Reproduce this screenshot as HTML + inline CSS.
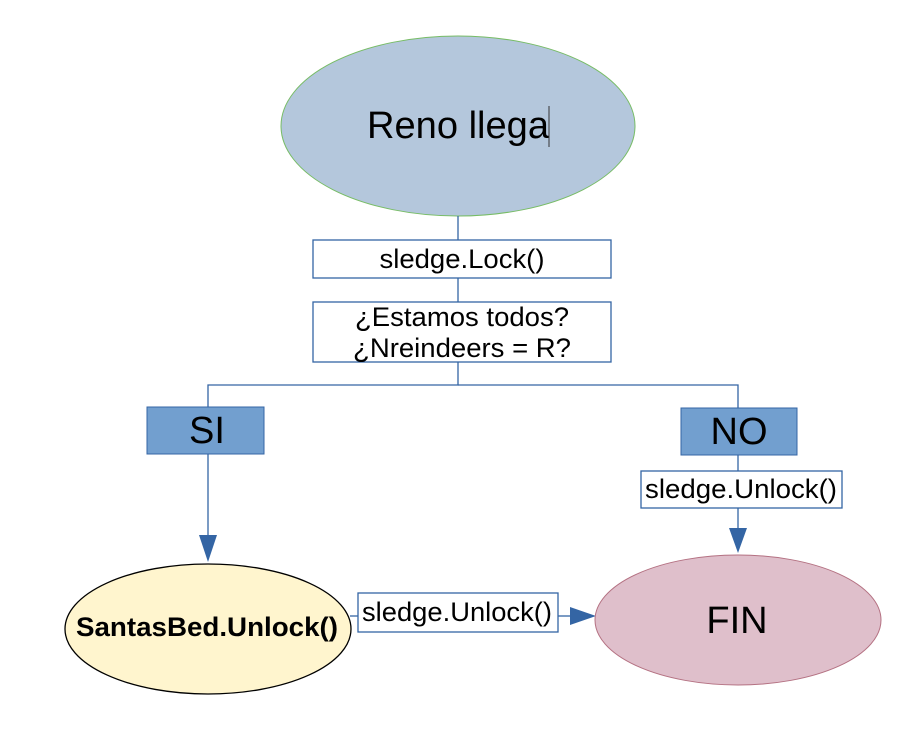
<!DOCTYPE html>
<html><head><style>body{margin:0;background:#fff}</style></head><body>
<svg width="906" height="736" xmlns="http://www.w3.org/2000/svg" font-family="Liberation Sans, sans-serif">
<rect width="906" height="736" fill="#fff"/>
<ellipse cx="458" cy="126" rx="177" ry="90" fill="#b4c7dc" stroke="#77bc65" stroke-width="1"/>
<text x="458" y="138" font-size="38" text-anchor="middle" textLength="182" lengthAdjust="spacingAndGlyphs">Reno llega</text>
<line x1="549" y1="106" x2="549" y2="147" stroke="#333" stroke-width="1"/>
<g stroke="#3465a4" stroke-width="1.3" fill="none">
<line x1="458" y1="216" x2="458" y2="240"/>
<line x1="458" y1="278" x2="458" y2="302"/>
<polyline points="458,362 458,385 208,385 208,407"/>
<polyline points="458,385 738,385 738,408"/>
<line x1="208" y1="454" x2="208" y2="540"/>
<line x1="738" y1="455" x2="738" y2="471"/>
<line x1="738" y1="508" x2="738" y2="530"/>
<line x1="350" y1="616" x2="358" y2="616"/>
<line x1="558" y1="616" x2="572" y2="616"/>
</g>
<g fill="#3465a4">
<polygon points="199,535 217,535 208,562"/>
<polygon points="729,528 747,528 738,553"/>
<polygon points="570,607 570,625 596,616"/>
</g>
<rect x="313" y="240" width="298" height="38" fill="#fff" stroke="#3465a4" stroke-width="1.3"/>
<text x="462" y="268" font-size="27" text-anchor="middle" textLength="165" lengthAdjust="spacingAndGlyphs">sledge.Lock()</text>
<rect x="313" y="302" width="298" height="60" fill="#fff" stroke="#3465a4" stroke-width="1.3"/>
<text x="462" y="326" font-size="27" text-anchor="middle" textLength="214" lengthAdjust="spacingAndGlyphs">¿Estamos todos?</text>
<text x="462" y="357" font-size="27" text-anchor="middle" textLength="218" lengthAdjust="spacingAndGlyphs">¿Nreindeers = R?</text>
<rect x="147" y="407" width="117" height="47" fill="#729fcf" stroke="#3465a4" stroke-width="1"/>
<text x="207" y="443" font-size="38" text-anchor="middle">SI</text>
<rect x="681" y="408" width="116" height="47" fill="#729fcf" stroke="#3465a4" stroke-width="1"/>
<text x="739" y="444" font-size="38" text-anchor="middle">NO</text>
<rect x="641" y="471" width="201" height="37" fill="#fff" stroke="#3465a4" stroke-width="1.3"/>
<text x="741" y="498" font-size="27" text-anchor="middle" textLength="192" lengthAdjust="spacingAndGlyphs">sledge.Unlock()</text>
<ellipse cx="208" cy="629" rx="143" ry="65" fill="#fff5ce" stroke="#000" stroke-width="1.3"/>
<text x="207" y="636" font-size="27" font-weight="bold" text-anchor="middle" textLength="262" lengthAdjust="spacingAndGlyphs">SantasBed.Unlock()</text>
<rect x="358" y="593" width="200" height="39" fill="#fff" stroke="#3465a4" stroke-width="1.3"/>
<text x="457" y="621" font-size="27" text-anchor="middle" textLength="190" lengthAdjust="spacingAndGlyphs">sledge.Unlock()</text>
<ellipse cx="738" cy="620" rx="143" ry="65" fill="#dfbfcb" stroke="#b47182" stroke-width="1"/>
<text x="737" y="633" font-size="38" text-anchor="middle">FIN</text>
</svg>
</body></html>
